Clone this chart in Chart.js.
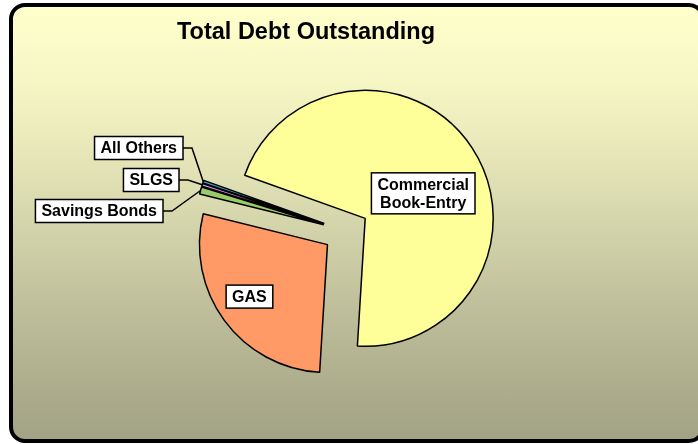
<!DOCTYPE html>
<html>
<head>
<meta charset="utf-8">
<title>Total Debt Outstanding</title>
<script src="https://cdn.jsdelivr.net/npm/chart.js@4.4.0/dist/chart.umd.min.js"></script>
<style>
  html, body { margin: 0; padding: 0; background: #fff; }
  #wrap { position: relative; width: 698px; height: 444px; overflow: hidden; }
  #panel {
    position: absolute; left: 9px; top: 3px; width: 696px; height: 440px;
    box-sizing: border-box; border: 4px solid #000; border-radius: 16px;
    background: linear-gradient(to bottom, #FFFFCC 0%, #F6F6C4 18%, #DEDEB3 42%, #C0C09C 68%, #A2A285 100%);
  }
  #chart { position: absolute; left: 0; top: 0; }
</style>
</head>
<body>
<div id="wrap">
  <div id="panel"></div>
  <canvas id="chart" width="698" height="444"></canvas>
</div>
<script>
// ----- data -----
const categories = ['Commercial Book-Entry', 'GAS', 'Savings Bonds', 'SLGS', 'All Others'];
const labelLines = [['Commercial', 'Book-Entry'], ['GAS'], ['Savings Bonds'], ['SLGS'], ['All Others']];
const shares = [70.5, 27.9, 0.9, 0.35, 0.35];
const sliceColors = ['#FFFF99', '#FF9966', '#99CC66', '#EE88EE', '#33AACC'];

// ----- layout -----
const PIE_RADIUS = 128;
const EXPLODE = 23;          // distance each slice is pulled out of the pie
const FONT = 'bold 16px "Liberation Sans", Arial, sans-serif';
const PAD_X = 6;
const PAD_Y = 2.5;
const LINE_H = 18;

// inside labels: centre offset from the exploded slice centre
// callouts: box right edge, box middle and elbow, measured from the pie centre
const labelPlacement = [
  { inside: true, dx: 58, dy: -25 },
  { inside: true, dx: -78, dy: 52 },
  { inside: false, boxRight: -183, midY: -20, elbowX: -174 },
  { inside: false, boxRight: -167, midY: -51, elbowX: -158 },
  { inside: false, boxRight: -163, midY: -83, elbowX: -154 }
];

let pieCenter = null;

const sliceLabels = {
  id: 'sliceLabels',

  afterDatasetsUpdate(chart) {
    // explode every slice by moving its own centre along its mid angle
    const arcs = chart.getDatasetMeta(0).data;
    pieCenter = { x: arcs[0].x, y: arcs[0].y };
    arcs.forEach(arc => {
      const mid = (arc.startAngle + arc.endAngle) / 2;
      arc.x = pieCenter.x + Math.cos(mid) * EXPLODE;
      arc.y = pieCenter.y + Math.sin(mid) * EXPLODE;
    });
  },

  afterDraw(chart) {
    const ctx = chart.ctx;
    const arcs = chart.getDatasetMeta(0).data;
    const cx = pieCenter.x;
    const cy = pieCenter.y;

    ctx.save();
    ctx.font = FONT;
    ctx.lineWidth = 1.5;
    ctx.strokeStyle = '#000';

    arcs.forEach((arc, i) => {
      const mid = (arc.startAngle + arc.endAngle) / 2;
      const p = labelPlacement[i];
      const lines = labelLines[i];
      const w = Math.max(...lines.map(t => ctx.measureText(t).width)) + 2 * PAD_X;
      const h = lines.length * LINE_H + 2 * PAD_Y;
      let bx, by;

      if (p.inside) {
        bx = arc.x + p.dx - w / 2;
        by = arc.y + p.dy - h / 2;
      } else {
        bx = cx + p.boxRight - w;
        by = cy + p.midY - h / 2;
        const ex = arc.x + Math.cos(mid) * arc.outerRadius;
        const ey = arc.y + Math.sin(mid) * arc.outerRadius;
        ctx.beginPath();
        ctx.moveTo(cx + p.boxRight, cy + p.midY);
        ctx.lineTo(cx + p.elbowX, cy + p.midY);
        ctx.lineTo(ex, ey);
        ctx.stroke();
      }

      ctx.fillStyle = '#fff';
      ctx.fillRect(bx, by, w, h);
      ctx.strokeRect(bx, by, w, h);

      ctx.fillStyle = '#000';
      ctx.textAlign = 'center';
      ctx.textBaseline = 'middle';
      lines.forEach((t, k) => {
        ctx.fillText(t, bx + w / 2, by + PAD_Y + LINE_H * (k + 0.5) + 1);
      });
    });

    // title
    ctx.font = 'bold 23.5px "Liberation Sans", Arial, sans-serif';
    ctx.textAlign = 'center';
    ctx.textBaseline = 'alphabetic';
    ctx.fillStyle = '#000';
    ctx.fillText('Total Debt Outstanding', 306, 39);
    ctx.restore();
  }
};

new Chart(document.getElementById('chart'), {
  type: 'pie',
  data: {
    labels: categories,
    datasets: [{
      data: shares,
      backgroundColor: sliceColors,
      borderColor: '#000',
      borderWidth: 1.5
    }]
  },
  options: {
    responsive: false,
    animation: false,
    events: [],
    rotation: -70.3,
    radius: PIE_RADIUS,
    layout: { padding: { left: 0, right: 6, top: 18, bottom: 0 } },
    plugins: {
      legend: { display: false },
      title: { display: false },
      tooltip: { enabled: false }
    }
  },
  plugins: [sliceLabels]
});
</script>
</body>
</html>
